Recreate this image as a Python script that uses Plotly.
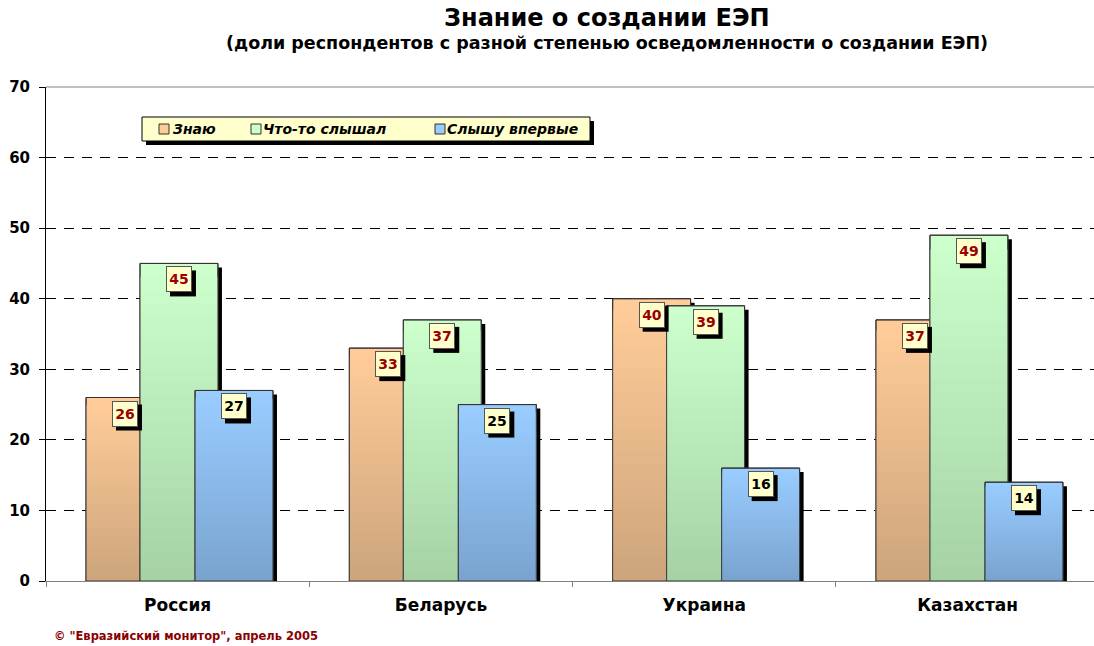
import plotly.graph_objects as go

# Survey data: awareness of the Single Economic Space (ЕЭП), % of respondents
countries = ["Россия", "Беларусь", "Украина", "Казахстан"]
series_names = ["Знаю", "Что-то слышал", "Слышу впервые"]
know = [26, 33, 40, 37]
heard_something = [45, 37, 39, 49]
first_time = [27, 25, 16, 14]

series_values = [know, heard_something, first_time]
# vertical gradient of each bar: light at the top, darker at the bottom
top_colors = [(255, 204, 153), (204, 255, 204), (153, 204, 255)]
bottom_colors = [(206, 165, 124), (166, 210, 166), (122, 164, 208)]
label_colors = ["#990000", "#990000", "#000000"]
y_ticks = [0, 10, 20, 30, 40, 50, 60, 70]

FONT = "DejaVu Sans, Verdana, Arial"
W, H = 1094, 646
ML, MR, MT, MB = 46, 0, 87, 65
X_RANGE = [-0.5, 3.48]
Y_RANGE = [0, 70]
PW, PH = W - ML - MR, H - MT - MB
px_per_cat = PW / (X_RANGE[1] - X_RANGE[0])
px_per_unit = PH / (Y_RANGE[1] - Y_RANGE[0])

bar_w = 0.296
offsets = [-0.348, -0.143, 0.066]
shadow_dx = 4 / px_per_cat
shadow_dy = 4 / px_per_unit
N_BANDS = 24
BOX = 26  # value label box size, px


def rgb(c):
    return "rgb(%d,%d,%d)" % c


def mix(a, b, t):
    return tuple(round(a[i] + (b[i] - a[i]) * t) for i in range(3))


def px(xpix):
    """page x pixel -> paper x"""
    return (xpix - ML) / PW


def py(ypix):
    """page y pixel -> paper y"""
    return (MT + PH - ypix) / PH


fig = go.Figure()
for name, vals, c_top, c_bot, off in zip(series_names, series_values,
                                         top_colors, bottom_colors, offsets):
    # drop shadow behind each bar
    fig.add_trace(go.Bar(
        x=countries, y=[v - shadow_dy for v in vals], width=bar_w,
        offset=off + shadow_dx, marker=dict(color="black", line=dict(width=0)),
        hoverinfo="skip",
    ))
    # full bar in the top colour
    fig.add_trace(go.Bar(
        x=countries, y=vals, name=name, width=bar_w, offset=off,
        marker=dict(color=rgb(c_top), line=dict(color="#333333", width=1)),
        hoverinfo="skip",
    ))
    # gradient: progressively shorter, darker bars stacked in front
    for k in range(1, N_BANDS):
        frac = (N_BANDS - k) / N_BANDS
        fig.add_trace(go.Bar(
            x=countries, y=[v * frac for v in vals], width=bar_w, offset=off,
            marker=dict(color=rgb(mix(c_top, c_bot, k / (N_BANDS - 1))),
                        line=dict(width=0)),
            hoverinfo="skip",
        ))
    # outline on top
    fig.add_trace(go.Bar(
        x=countries, y=vals, width=bar_w, offset=off,
        marker=dict(color="rgba(0,0,0,0)", line=dict(color="#333333", width=1)),
        hovertemplate="%{x}: %{y}<extra>" + name + "</extra>",
    ))

annotations = []
shapes = []
label_font = dict(family=FONT, size=14, weight="bold")
for vals, off, tcol in zip(series_values, offsets, label_colors):
    for i, v in enumerate(vals):
        xc = i + off + bar_w / 2
        # shadow of the value box, anchored to the bar top
        shapes.append(dict(type="rect", xref="x", yref="y",
                           xsizemode="pixel", ysizemode="pixel",
                           xanchor=xc, yanchor=v,
                           x0=-BOX / 2 + 4, x1=BOX / 2 + 4,
                           y0=-3 - 4, y1=-3 - 4 - BOX,
                           fillcolor="black", line=dict(width=0), layer="above"))
        annotations.append(dict(x=xc, y=v, xref="x", yref="y", text=str(v),
                                showarrow=False, yanchor="top", yshift=-3,
                                width=BOX - 6, height=BOX - 6, borderpad=2,
                                bgcolor="#FFFFCC", bordercolor="#555555",
                                borderwidth=1, font=dict(label_font, color=tcol)))

annotations += [
    dict(text="Знание о создании ЕЭП", x=px(607), y=py(18), xref="paper",
         yref="paper", yanchor="middle", showarrow=False,
         font=dict(family=FONT, size=24, weight="bold", color="black")),
    dict(text="(доли респондентов с разной степенью осведомленности о создании ЕЭП)",
         x=px(607), y=py(43), xref="paper", yref="paper", yanchor="middle",
         showarrow=False,
         font=dict(family=FONT, size=17.5, weight="bold", color="black")),
    dict(text='© "Евразийский монитор", апрель 2005', x=px(52), y=py(636),
         xref="paper", yref="paper", xanchor="left", yanchor="middle",
         showarrow=False,
         font=dict(family=FONT, size=11.5, weight="bold", color="#8B0000")),
]

# legend box (shadow, frame, swatches, captions)
LEG_L, LEG_R, LEG_T, LEG_B = 142, 590, 117, 141
shapes += [
    dict(type="rect", xref="paper", yref="paper", x0=px(LEG_L + 4), x1=px(LEG_R + 4),
         y0=py(LEG_B + 4), y1=py(LEG_T + 4), fillcolor="black",
         line=dict(width=0), layer="above"),
    dict(type="rect", xref="paper", yref="paper", x0=px(LEG_L), x1=px(LEG_R),
         y0=py(LEG_B), y1=py(LEG_T), fillcolor="#FFFFCC",
         line=dict(color="black", width=1), layer="above"),
    # top border of plot area
    dict(type="line", xref="paper", yref="paper", x0=0, x1=1, y0=1, y1=1,
         line=dict(color="#808080", width=1)),
]
swatch_x = [159, 251, 435]
caption_x = [173, 263, 447]
leg_mid = (LEG_T + LEG_B) / 2
for name, c_top, sx, tx in zip(series_names, top_colors, swatch_x, caption_x):
    shapes.append(dict(type="rect", xref="paper", yref="paper", x0=px(sx),
                       x1=px(sx + 10), y0=py(leg_mid + 5), y1=py(leg_mid - 5),
                       fillcolor=rgb(c_top), line=dict(color="#333333", width=1),
                       layer="above"))
    annotations.append(dict(text=name, x=px(tx - 2), y=py(leg_mid), xref="paper",
                            yref="paper", xanchor="left", yanchor="middle",
                            showarrow=False,
                            font=dict(family=FONT, size=14, style="italic",
                                      weight="bold", color="black")))

fig.update_layout(
    width=W, height=H,
    margin=dict(l=ML, r=MR, t=MT, b=MB),
    paper_bgcolor="white", plot_bgcolor="white",
    barmode="overlay",
    font=dict(family=FONT, color="black"),
    showlegend=False,
    annotations=annotations,
    shapes=shapes,
)
fig.update_xaxes(range=X_RANGE, showgrid=False, showline=True, linecolor="#808080",
                 linewidth=1, ticks="outside", tickson="boundaries", ticklen=5,
                 tickcolor="#808080", tickfont=dict(size=17, weight="bold"),
                 ticklabelstandoff=9, fixedrange=True)
fig.update_yaxes(range=Y_RANGE, tickvals=y_ticks, showgrid=True, gridcolor="black",
                 griddash="10px,8px", gridwidth=1, showline=True, linecolor="black",
                 linewidth=1, ticks="outside", ticklen=6, tickcolor="black",
                 tickfont=dict(size=15, weight="bold"), ticklabelstandoff=6,
                 zeroline=False, fixedrange=True)

fig.write_html("out.html")
